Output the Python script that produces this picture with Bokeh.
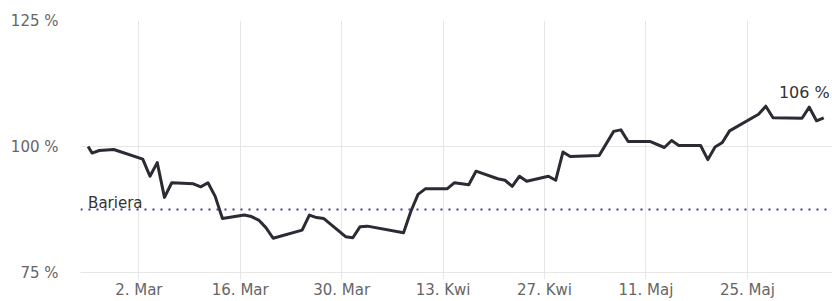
import pandas as pd
from bokeh.plotting import figure
from bokeh.models import Range1d, FixedTicker, CustomJSTickFormatter, Span, Label
from bokeh.embed import file_html
from bokeh.resources import INLINE

# ---- data ----
dates = [
    "2020-02-24 00:00", "2020-02-24 13:00", "2020-02-25 13:00", "2020-02-27 13:00",
    "2020-03-02 13:00", "2020-03-03 13:00", "2020-03-04 13:00", "2020-03-05 13:00",
    "2020-03-06 13:00", "2020-03-09 13:00", "2020-03-10 13:00", "2020-03-11 13:00",
    "2020-03-12 13:00", "2020-03-13 13:00", "2020-03-16 13:00", "2020-03-17 13:00",
    "2020-03-18 13:00", "2020-03-19 13:00", "2020-03-20 13:00", "2020-03-24 13:00",
    "2020-03-25 13:00", "2020-03-26 13:00", "2020-03-27 13:00", "2020-03-30 13:00",
    "2020-03-31 13:00", "2020-04-01 13:00", "2020-04-02 13:00", "2020-04-07 13:00",
    "2020-04-08 13:00", "2020-04-09 13:00", "2020-04-10 13:00", "2020-04-13 13:00",
    "2020-04-14 13:00", "2020-04-16 13:00", "2020-04-17 13:00", "2020-04-20 13:00",
    "2020-04-21 13:00", "2020-04-22 13:00", "2020-04-23 13:00", "2020-04-24 13:00",
    "2020-04-27 13:00", "2020-04-28 13:00", "2020-04-29 13:00", "2020-04-30 13:00",
    "2020-05-04 13:00", "2020-05-06 13:00", "2020-05-07 13:00", "2020-05-08 13:00",
    "2020-05-11 13:00", "2020-05-13 13:00", "2020-05-14 13:00", "2020-05-15 13:00",
    "2020-05-18 13:00", "2020-05-19 13:00", "2020-05-20 13:00", "2020-05-21 13:00",
    "2020-05-22 13:00", "2020-05-26 13:00", "2020-05-27 13:00", "2020-05-28 13:00",
    "2020-06-01 13:00", "2020-06-02 13:00", "2020-06-03 13:00", "2020-06-04 13:00",
]
values = [
    100.0, 98.7, 99.2, 99.4,
    97.5, 94.1, 96.8, 89.9,
    92.8, 92.6, 92.0, 92.8,
    90.1, 85.7, 86.4, 86.1,
    85.4, 83.9, 81.8, 83.4,
    86.4, 85.9, 85.7, 82.1,
    81.9, 84.1, 84.2, 82.9,
    87.1, 90.5, 91.6, 91.6,
    92.8, 92.4, 95.1, 93.6,
    93.3, 92.1, 94.1, 93.1,
    94.1, 93.3, 98.9, 98.0,
    98.2, 103.0, 103.3, 101.0,
    101.0, 99.8, 101.2, 100.2,
    100.2, 97.4, 99.9, 100.8,
    103.1, 106.4, 108.0, 105.7,
    105.6, 107.8, 105.1, 105.7,
]
x_tick_dates = ["2020-03-02", "2020-03-16", "2020-03-30", "2020-04-13",
                "2020-04-27", "2020-05-11", "2020-05-25"]
x_tick_labels = ["2. Mar", "16. Mar", "30. Mar", "13. Kwi", "27. Kwi", "11. Maj", "25. Maj"]
y_ticks = [75, 100, 125]
barrier = 87.5
barrier_label = "Bariera"
x_start = "2020-02-22 22:48"
x_end = "2020-06-05 18:00"
y_min, y_max = 75, 125

# ---- build ----
def ms(s):
    return pd.Timestamp(s).value / 1e6

xs = [ms(d) for d in dates]
tick_ms = [ms(d) for d in x_tick_dates]

FONT = "DejaVu Sans"

p = figure(width=832, height=301, x_axis_type="datetime",
           x_range=Range1d(ms(x_start), ms(x_end)),
           y_range=Range1d(y_min, y_max),
           output_backend="svg", toolbar_location=None,
           min_border_left=80, min_border_right=0,
           min_border_top=20, min_border_bottom=28)
p.outline_line_color = None
p.background_fill_color = "white"
p.border_fill_color = "white"

xticker = FixedTicker(ticks=tick_ms)
p.xaxis.ticker = xticker
p.xgrid.ticker = xticker
p.xaxis.formatter = CustomJSTickFormatter(
    args=dict(tvals=tick_ms, tlabels=x_tick_labels),
    code="""
    for (let i = 0; i < tvals.length; i++) {
        if (Math.abs(tvals[i] - tick) < 1000) { return tlabels[i]; }
    }
    return "";
    """)
yticker = FixedTicker(ticks=y_ticks)
p.yaxis.ticker = yticker
p.ygrid.ticker = yticker
p.yaxis.formatter = CustomJSTickFormatter(code="return tick + ' %';")

for ax in (p.xaxis[0], p.yaxis[0]):
    ax.major_label_text_font = FONT
    ax.major_label_text_font_size = "15px"
    ax.major_label_text_color = "#666666"
    ax.minor_tick_line_color = None

p.yaxis.axis_line_color = None
p.yaxis.major_tick_line_color = None
p.yaxis.major_tick_in = 0
p.yaxis.major_tick_out = 0
p.yaxis.major_label_standoff = 22

p.xaxis.axis_line_color = "#e6e6e6"
p.xaxis.major_tick_line_color = "#e6e6e6"
p.xaxis.major_tick_in = 0
p.xaxis.major_tick_out = 7
p.xaxis.major_label_standoff = 1

p.xgrid.grid_line_color = "#e6e6e6"
p.ygrid.grid_line_color = "#e6e6e6"

p.add_layout(Span(location=barrier, dimension="width", line_color="#3d3d8f",
                  line_dash="2 6", line_width=2))

p.line(xs, values, line_color="#2b2b33", line_width=3, line_join="round")

p.add_layout(Label(x=xs[0], y=barrier, text=barrier_label, x_offset=0, y_offset=7,
                   text_font=FONT, text_font_size="15px", text_color="#333333",
                   text_baseline="alphabetic"))
p.add_layout(Label(x=xs[-1], y=values[-1], text=f"{round(values[-1])} %",
                   x_offset=6, y_offset=25, text_align="right",
                   text_font=FONT, text_font_size="16px", text_color="#333333",
                   text_baseline="alphabetic"))

open("out.html", "w").write(file_html(p, INLINE))
